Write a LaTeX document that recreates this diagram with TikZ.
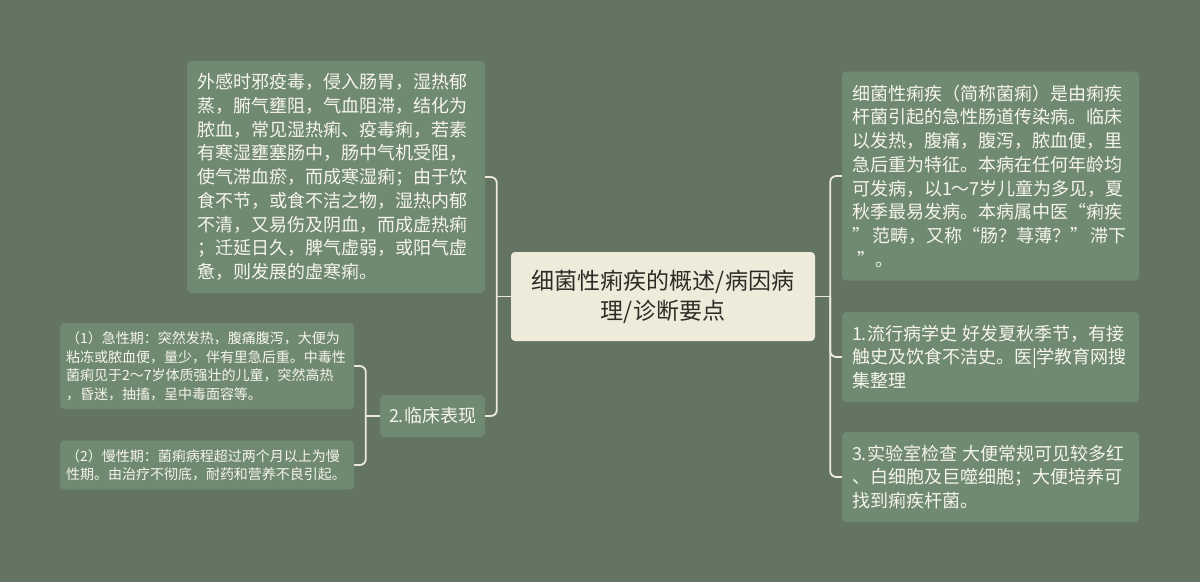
\documentclass[tikz,border=0pt]{standalone}
\usepackage{fontspec}
\setmainfont{Noto Sans CJK SC}
\definecolor{bggreen}{RGB}{99,116,99}
\definecolor{boxgreen}{RGB}{111,138,112}
\definecolor{cream}{RGB}{239,235,219}
\definecolor{linecream}{RGB}{238,234,216}
\definecolor{textlight}{RGB}{246,244,236}
\definecolor{textdark}{RGB}{45,45,40}

\begin{document}
\begin{tikzpicture}[x=1pt,y=-1pt,
  topic/.style={fill=boxgreen,rounded corners=4pt,text=textlight,align=left,inner xsep=10pt,inner ysep=0pt,font=\fontsize{18}{23.7}\selectfont},
  small/.style={topic,inner xsep=6pt,font=\fontsize{14}{18.5}\selectfont},
  root/.style={fill=cream,rounded corners=4pt,text=textdark,align=center,font=\fontsize{23}{30}\selectfont},
  conn/.style={draw=linecream,line width=1.8pt,rounded corners=6pt}]
\fill[bggreen] (0,0) rectangle (1200,582);
\useasboundingbox (0,0) rectangle (1200,582);

\node[root,minimum width=304pt,minimum height=89pt] (root) at (663,296.5) {细菌性痢疾的概述/病因病\\理/诊断要点};

\node[topic,text width=278pt,minimum height=232pt] (cause) at (336,177) {外感时邪疫毒，侵入肠胃，湿热郁\\蒸，腑气壅阻，气血阻滞，结化为\\脓血，常见湿热痢、疫毒痢，若素\\有寒湿壅塞肠中，肠中气机受阻，\\使气滞血瘀，而成寒湿痢；由于饮\\食不节，或食不洁之物，湿热内郁\\不清，又易伤及阴血，而成虚热痢\\；迁延日久，脾气虚弱，或阳气虚\\惫，则发展的虚寒痢。};
\node[topic,align=center,inner xsep=6pt,minimum width=105pt,minimum height=42pt] (clin) at (432.5,416) {2.临床表现};
\node[small,text width=282pt,minimum height=86pt] (acute) at (207,366) {（1）急性期：突然发热，腹痛腹泻，大便为\\粘冻或脓血便，量少，伴有里急后重。中毒性\\菌痢见于2～7岁体质强壮的儿童，突然高热\\，昏迷，抽搐，呈中毒面容等。};
\node[small,text width=282pt,minimum height=49pt] (chronic) at (207,465) {（2）慢性期：菌痢病程超过两个月以上为慢\\性期。由治疗不彻底，耐药和营养不良引起。};

\node[topic,text width=277pt,minimum height=209pt] (over) at (990.5,176) {细菌性痢疾（简称菌痢）是由痢疾\\杆菌引起的急性肠道传染病。临床\\以发热，腹痛，腹泻，脓血便，里\\急后重为特征。本病在任何年龄均\\可发病，以1～7岁儿童为多见，夏\\秋季最易发病。本病属中医“痢疾\\”\hspace{2pt}范畴，又称“肠？荨薄？”\hspace{2pt}滞下\\\hspace*{5pt}”。};
\node[topic,text width=277pt,minimum height=90pt] (epi) at (990.5,357) {1.流行病学史~好发夏秋季节，有接\\触史及饮食不洁史。医|学教育网搜\\集整理};
\node[topic,text width=277pt,minimum height=90pt] (lab) at (990.5,477) {3.实验室检查~大便常规可见较多红\\、白细胞及巨噬细胞；大便培养可\\找到痢疾杆菌。};

\coordinate (jl) at ([xshift=-14pt]root.west);
\coordinate (jr) at ([xshift=15pt]root.east);
\coordinate (jc) at ([xshift=-14pt]clin.west);
\draw[conn] (root.west) -- (jl);
\draw[conn] (cause.east) -| (jl) |- (clin.east);
\draw[conn] (root.east) -- (jr);
\draw[conn] (over.west) -| (jr) |- (lab.west);
\draw[conn] (jr) |- (epi.west);
\draw[conn] (clin.west) -- (jc);
\draw[conn] (acute.east) -| (jc) |- (chronic.east);
\end{tikzpicture}
\end{document}
